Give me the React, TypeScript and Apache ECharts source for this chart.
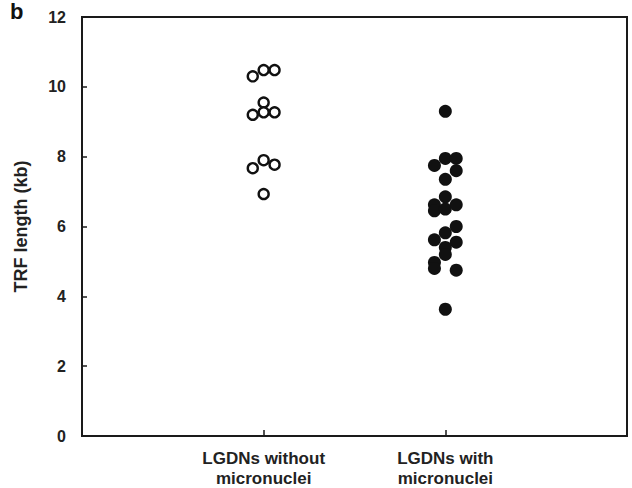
import React, { useEffect, useRef } from "react";
import * as echarts from "echarts";

const categories = ["LGDNs without\nmicronuclei", "LGDNs with\nmicronuclei"];
const categoryPositions = [1, 2];
const yTicks = [0, 2, 4, 6, 8, 10, 12];

// [x position (category index + jitter), TRF length kb]
const withoutMicronuclei: [number, number][] = [
  [0.94, 10.3], [1.0, 10.48], [1.06, 10.48],
  [1.0, 9.55], [0.94, 9.2], [1.0, 9.27], [1.06, 9.27],
  [0.94, 7.67], [1.0, 7.9], [1.06, 7.77],
  [1.0, 6.93],
];

const withMicronuclei: [number, number][] = [
  [2.0, 9.3],
  [2.0, 7.95], [2.06, 7.95], [1.94, 7.75], [2.06, 7.6], [2.0, 7.35],
  [2.0, 6.85], [1.94, 6.62], [1.94, 6.45], [2.0, 6.5], [2.06, 6.62],
  [2.06, 6.0], [2.0, 5.82], [1.94, 5.62], [2.06, 5.55], [2.0, 5.4], [2.0, 5.2],
  [1.94, 4.97], [1.94, 4.8], [2.06, 4.75],
  [2.0, 3.63],
];

export default function App() {
  const ref = useRef<HTMLDivElement>(null);
  useEffect(() => {
    if (!ref.current) return;
    const chart = echarts.init(ref.current, null, { renderer: "svg" });
    const font = "Liberation Sans, Arial, sans-serif";
    chart.setOption({
      animation: false,
      backgroundColor: "#fff",
      textStyle: { fontFamily: font },
      grid: {
        left: 82,
        right: 5,
        top: 17,
        bottom: 52,
        containLabel: false,
        outerBoundsMode: "none",
        show: true,
        borderColor: "#1a1a1a",
        borderWidth: 2,
      },
      graphic: [
        {
          type: "text",
          left: 10,
          top: 0,
          style: { text: "b", font: `bold 22px ${font}`, fill: "#111" },
        },
      ],
      xAxis: {
        type: "value",
        min: 0,
        max: 3,
        splitLine: { show: false },
        axisLine: { show: true, lineStyle: { color: "#1a1a1a", width: 2 } },
        axisTick: {
          show: true,
          inside: true,
          length: 6,
          customValues: categoryPositions,
          lineStyle: { color: "#1a1a1a", width: 1.5 },
        },
        axisLabel: {
          customValues: categoryPositions,
          formatter: (v: number) => categories[categoryPositions.indexOf(v)] ?? "",
          fontWeight: "bold",
          fontSize: 17,
          lineHeight: 20,
          color: "#222",
          margin: 12,
        },
      },
      yAxis: {
        type: "value",
        min: 0,
        max: 12,
        interval: 2,
        name: "TRF length (kb)",
        nameLocation: "middle",
        nameGap: 52,
        nameTextStyle: { fontWeight: "bold", fontSize: 18, color: "#222" },
        splitLine: { show: false },
        axisLine: { show: true, lineStyle: { color: "#1a1a1a", width: 2 } },
        axisTick: { show: true, inside: true, length: 5, lineStyle: { color: "#1a1a1a", width: 1.5 } },
        axisLabel: {
          fontWeight: "bold",
          fontSize: 16,
          color: "#222",
          margin: 16,
          formatter: (v: number) => (yTicks.includes(v) ? String(v) : ""),
        },
      },
      series: [
        {
          type: "scatter",
          data: withoutMicronuclei,
          symbol: "circle",
          symbolSize: 10,
          itemStyle: { color: "#fff", borderColor: "#111", borderWidth: 2.4, opacity: 1 },
        },
        {
          type: "scatter",
          data: withMicronuclei,
          symbol: "circle",
          symbolSize: 13,
          itemStyle: { color: "#111", opacity: 1 },
        },
      ],
    });
    return () => chart.dispose();
  }, []);
  return (
    <div
      ref={ref}
      style={{ position: "fixed", left: 0, top: 0, width: 632, height: 488, background: "#fff" }}
    />
  );
}
